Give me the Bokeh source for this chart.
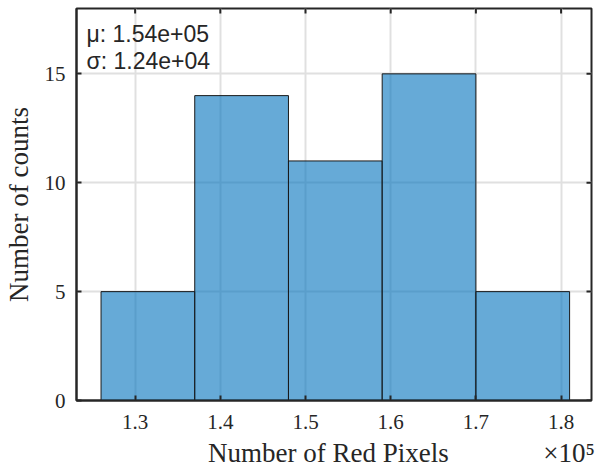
import math
from bokeh.plotting import figure
from bokeh.models import Range1d, FixedTicker, Label
from bokeh.embed import file_html
from bokeh.resources import INLINE

# Data (x in units of 1e5 pixels)
bin_edges = [1.26, 1.37, 1.48, 1.59, 1.70, 1.81]
counts = [5, 14, 11, 15, 5]
x_ticks = [1.3, 1.4, 1.5, 1.6, 1.7, 1.8]
x_tick_labels = ["1.3", "1.4", "1.5", "1.6", "1.7", "1.8"]
y_ticks = [0, 5, 10, 15]
stats_lines = ["μ: 1.54e+05", "σ: 1.24e+04"]
x_title = "Number of Red Pixels"
x_exponent = "×10⁵"
y_title = "Number of counts"
x_lim = (1.2312, 1.8357)
y_lim = (0, 18)

SERIF = "Liberation Serif"
SANS = "Liberation Sans"
AX = "#262626"
NB = "\u00a0"

p = figure(output_backend="svg", toolbar_location=None,
           x_range=Range1d(*x_lim), y_range=Range1d(*y_lim),
           frame_width=515, frame_height=392,
           min_border_left=74, min_border_right=4, min_border_top=8, min_border_bottom=66)
p.background_fill_color = "white"
p.border_fill_color = "white"
p.outline_line_color = AX
p.outline_line_width = 2

p.quad(left=bin_edges[:-1], right=bin_edges[1:], bottom=0, top=counts,
       fill_color="#0072BD", fill_alpha=0.6, line_color="#1a1a1a", line_width=1)

for ax in (p.xaxis[0], p.yaxis[0]):
    ax.axis_line_color = AX
    ax.axis_line_width = 2
    ax.major_tick_line_color = AX
    ax.major_tick_line_width = 2
    ax.major_tick_in = 5
    ax.major_tick_out = 0
    ax.minor_tick_line_color = None
    ax.major_label_text_font = SERIF
    ax.major_label_text_color = "#262626"
    ax.axis_label_text_font = SERIF
    ax.axis_label_text_font_style = "normal"
    ax.axis_label_text_color = "#262626"

p.xaxis[0].ticker = FixedTicker(ticks=x_ticks)
p.xaxis[0].major_label_overrides = {t: s for t, s in zip(x_ticks, x_tick_labels)}
p.xaxis[0].major_label_text_font_size = "21px"
p.xaxis[0].major_label_standoff = 14
# axis title with the exponent placed at the right, padded so the title stays centred
p.xaxis[0].axis_label = NB * 20 + x_title + NB * 14 + x_exponent
p.xaxis[0].axis_label_text_font_size = "27px"
p.xaxis[0].axis_label_standoff = 6

p.yaxis[0].ticker = FixedTicker(ticks=y_ticks)
p.yaxis[0].major_label_text_font_size = "21px"
p.yaxis[0].major_label_standoff = 11
p.yaxis[0].axis_label = y_title
p.yaxis[0].axis_label_text_font_size = "27px"
p.yaxis[0].axis_label_standoff = 8

# mirrored inward ticks on top and right edges (clipped to the frame)
p.scatter(x=x_ticks, y=[y_lim[1]] * len(x_ticks), marker="dash", angle=math.pi / 2,
          size=10, line_color=AX, line_width=2)
p.scatter(x=[x_lim[1]] * len(y_ticks), y=y_ticks, marker="dash",
          size=10, line_color=AX, line_width=2)

p.xgrid.ticker = FixedTicker(ticks=x_ticks)
p.ygrid.ticker = FixedTicker(ticks=y_ticks)
for g in (p.xgrid[0], p.ygrid[0]):
    g.grid_line_color = "#e0e0e0"
    g.grid_line_width = 2

# statistics text
for i, line in enumerate(stats_lines):
    p.add_layout(Label(x=10, y=367 - 27 * i, x_units="screen", y_units="screen", text=line,
                       text_font=SANS, text_font_size="23px", text_color="#262626",
                       text_baseline="middle"))

open("out.html", "w").write(file_html(p, INLINE))
